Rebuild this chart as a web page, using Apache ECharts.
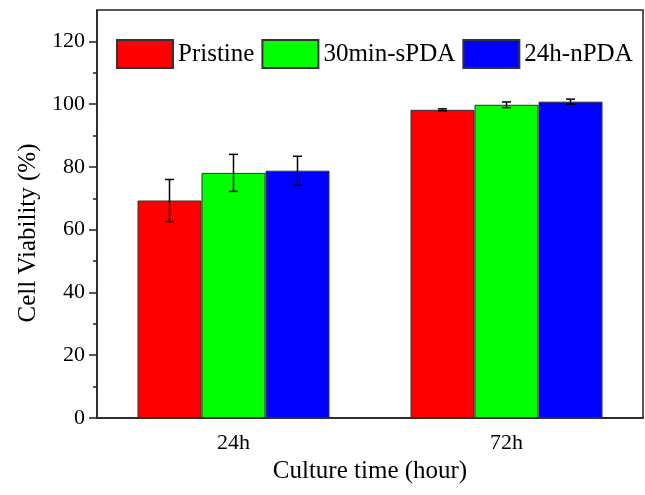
<!DOCTYPE html>
<html>
<head>
<meta charset="utf-8">
<script src="https://cdn.jsdelivr.net/npm/echarts@6/dist/echarts.min.js"></script>
<style>
html, body { margin: 0; padding: 0; background: #fff; }
#main { width: 645px; height: 495px; }
</style>
</head>
<body>
<div id="main"></div>
<script>
let categories = ['24h', '72h'];
let seriesNames = ['Pristine', '30min-sPDA', '24h-nPDA'];
let pristine = [69.3, 98.2];
let sPDA = [78.1, 99.8];
let nPDA = [78.8, 100.8];
let pristineErr = [6.7, 0.3];
let sPDAErr = [5.9, 0.9];
let nPDAErr = [4.6, 0.8];
let majorTicks = [0, 20, 40, 60, 80, 100, 120];
let minorTicks = [10, 30, 50, 70, 90, 110];

let dom = document.getElementById('main');
let myChart = echarts.init(dom);
let font = 'Liberation Serif';
let barW = 64;
let colors = ['#ff0000', '#00ff00', '#0000ff'];
let values = [pristine, sPDA, nPDA];
let errs = [pristineErr, sPDAErr, nPDAErr];

function errorSeries(idx) {
    let data = categories.map(function (c, i) {
        return [i, values[idx][i] - errs[idx][i], values[idx][i] + errs[idx][i]];
    });
    return {
        type: 'custom',
        name: seriesNames[idx] + ' err',
        data: data,
        z: 10,
        silent: true,
        renderItem: function (params, api) {
            let off = (idx - 1) * barW;
            let lo = api.coord([api.value(0), api.value(1)]);
            let hi = api.coord([api.value(0), api.value(2)]);
            let x = lo[0] + off;
            let cap = 4.5;
            let st = { stroke: '#000', lineWidth: 1.5 };
            return {
                type: 'group',
                children: [
                    { type: 'line', shape: { x1: x, y1: lo[1], x2: x, y2: hi[1] }, style: st },
                    { type: 'line', shape: { x1: x - cap, y1: lo[1], x2: x + cap, y2: lo[1] }, style: st },
                    { type: 'line', shape: { x1: x - cap, y1: hi[1], x2: x + cap, y2: hi[1] }, style: st }
                ]
            };
        }
    };
}

let series = [];
for (let i = 0; i < 3; i++) {
    series.push({
        type: 'bar',
        name: seriesNames[i],
        data: values[i],
        barWidth: barW,
        barGap: '0%',
        itemStyle: { color: colors[i], borderColor: '#333', borderWidth: 1 }
    });
}
for (let i = 0; i < 3; i++) series.push(errorSeries(i));

let option = {
    animation: false,
    textStyle: { fontFamily: font },
    legend: {
        data: seriesNames,
        left: 111,
        top: 34,
        itemWidth: 56,
        itemHeight: 28,
        itemGap: 7,
        icon: 'rect',
        textStyle: { fontFamily: font, fontSize: 25, color: '#000' }
    },
    grid: {
        left: 97, right: 2, top: 10, bottom: 77,
        show: true, borderColor: '#222', borderWidth: 1.5
    },
    xAxis: {
        type: 'category',
        data: categories,
        name: 'Culture time (hour)',
        nameLocation: 'middle',
        nameGap: 27,
        nameTextStyle: { fontFamily: font, fontSize: 25, color: '#000' },
        axisLine: { lineStyle: { color: '#222', width: 1.5 } },
        axisTick: { alignWithLabel: true, length: 8, lineStyle: { color: '#222', width: 1.5 } },
        axisLabel: { fontFamily: font, fontSize: 22, color: '#000', margin: 14 }
    },
    yAxis: [
        {
            type: 'value',
            min: 0, max: 130, interval: 20,
            name: 'Cell Viability (%)',
            nameLocation: 'middle',
            nameGap: 55,
            nameTextStyle: { fontFamily: font, fontSize: 25, color: '#000', padding: [0, 38, 0, 0] },
            splitLine: { show: false },
            axisLine: { show: true, lineStyle: { color: '#222', width: 1.5 } },
            axisTick: { show: true, length: 8, customValues: majorTicks, lineStyle: { color: '#222', width: 1.5 } },
            axisLabel: {
                fontFamily: font, fontSize: 22, color: '#000', margin: 12,
                customValues: majorTicks
            }
        },
        {
            type: 'value',
            min: 0, max: 130, interval: 10,
            position: 'left',
            splitLine: { show: false },
            axisLine: { show: false },
            axisTick: { show: true, length: 4, customValues: minorTicks, lineStyle: { color: '#222', width: 1.5 } },
            axisLabel: { show: false }
        }
    ],
    series: series
};

myChart.setOption(option, true);
window.addEventListener('resize', function () {
    myChart.resize();
});
</script>
</body>
</html>
